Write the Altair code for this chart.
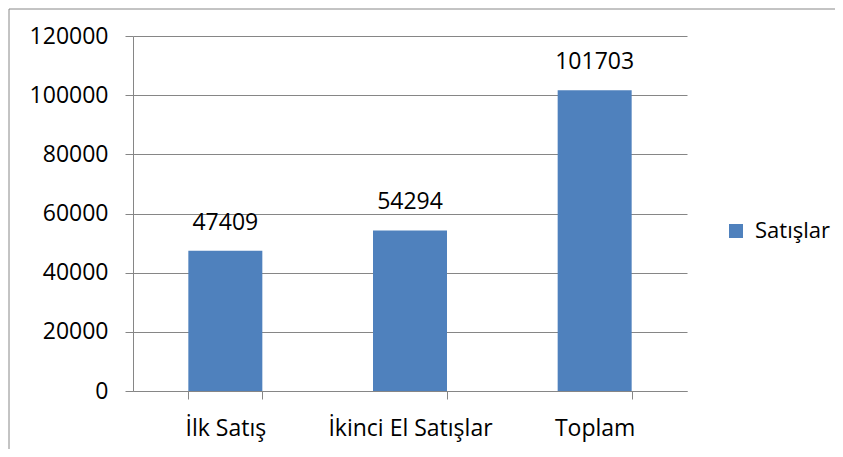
import altair as alt
import pandas as pd

categories = ["İlk Satış", "İkinci El Satışlar", "Toplam"]
values = [47409, 54294, 101703]
series = ["Satışlar", "Satışlar", "Satışlar"]
y_ticks = [0, 20000, 40000, 60000, 80000, 100000, 120000]

df = pd.DataFrame({"kategori": categories, "deger": values, "seri": series})

FONT = "Open Sans"
FS = 23
GRID = "#868686"
BLUE = "#4F81BD"

x_enc = alt.X(
    "kategori:N",
    sort=categories,
    title=None,
    scale=alt.Scale(paddingInner=0.6, paddingOuter=0.3),
    axis=alt.Axis(
        labelAngle=0,
        labelFont=FONT,
        labelFontSize=FS,
        labelColor="#000000",
        labelPadding=18,
        ticks=True,
        tickBand="extent",
        tickSize=8,
        tickWidth=1,
        tickColor=GRID,
        domainColor=GRID,
        grid=False,
    ),
)

y_enc = alt.Y(
    "deger:Q",
    title=None,
    scale=alt.Scale(domain=[0, 120000], nice=False),
    axis=alt.Axis(
        values=y_ticks,
        format="d",
        labelFont=FONT,
        labelFontSize=FS,
        labelColor="#000000",
        labelPadding=17,
        ticks=True,
        tickSize=8,
        tickWidth=1,
        tickColor=GRID,
        domainColor=GRID,
        gridColor=GRID,
        grid=True,
    ),
)

one = pd.DataFrame({"a": [0]})
frame_left = alt.Chart(one).mark_rule(color="#888888", strokeWidth=1).encode(
    x=alt.value(-124), y=alt.value(-27), y2=alt.value(600)
)
frame_top = alt.Chart(one).mark_rule(color="#888888", strokeWidth=1).encode(
    x=alt.value(-124), x2=alt.value(900), y=alt.value(-27)
)

bars = alt.Chart(df).mark_bar(size=74).encode(
    x=x_enc,
    y=y_enc,
    color=alt.Color(
        "seri:N",
        scale=alt.Scale(range=[BLUE]),
        legend=alt.Legend(
            title=None,
            orient="none",
            legendX=592,
            legendY=184,
            symbolType="square",
            symbolSize=196,
            symbolStrokeWidth=0,
            labelFont=FONT,
            labelFontSize=22,
            labelColor="#000000",
            labelOffset=8,
        ),
    ),
)

labels = alt.Chart(df).mark_text(
    font=FONT, fontSize=FS, color="#000000", baseline="middle", dy=-28
).encode(
    x=alt.X("kategori:N", sort=categories),
    y="deger:Q",
    text=alt.Text("deger:Q", format="d"),
)

chart = alt.layer(frame_left, frame_top, bars, labels).properties(
    width=554,
    height=355,
    autosize=alt.AutoSizeParams(type="none"),
    padding={"left": 125, "top": 28, "right": 148, "bottom": 58},
).configure_view(stroke=None)

chart.save("out.html", embed_options={"renderer": "svg", "actions": False})
